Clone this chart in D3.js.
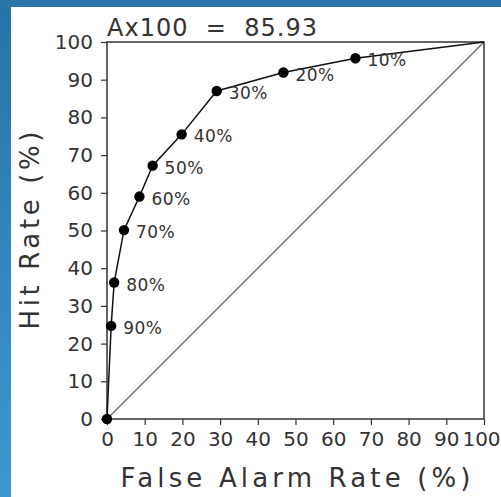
<!DOCTYPE html>
<html>
<head>
<meta charset="utf-8">
<script src="https://cdn.jsdelivr.net/npm/d3@7"></script>
<style>
  html, body { margin: 0; padding: 0; background: #fff; }
  svg { display: block; }
  text { font-family: "DejaVu Sans", sans-serif; fill: #333; }
</style>
</head>
<body>
<div id="chart"></div>
<script>
// ROC points (false alarm %, hit %)
const falseAlarm = [0, 1.1, 1.9, 4.5, 8.6, 12.1, 19.8, 29.1, 46.8, 65.9, 100];
const hitRate = [0, 24.7, 36.2, 50.1, 59.0, 67.2, 75.5, 87.0, 91.9, 95.7, 100];
const pointLabels = ["", "90%", "80%", "70%", "60%", "50%", "40%", "30%", "20%", "10%", ""];
const tickValues = [0, 10, 20, 30, 40, 50, 60, 70, 80, 90, 100];
const titleText = "Ax100  =  85.93";

const width = 501, height = 497;
const margin = { left: 107, top: 42, right: 17, bottom: 78 };
const innerW = width - margin.left - margin.right; // 377
const innerH = height - margin.top - margin.bottom; // 377

const svg = d3.select("#chart")
  .append("svg")
  .attr("width", width)
  .attr("height", height);

// blue slide background strips
const defs = svg.append("defs");
const grad = defs.append("linearGradient")
  .attr("id", "blueside")
  .attr("x1", 0).attr("y1", 0).attr("x2", 0).attr("y2", 1);
grad.append("stop").attr("offset", "0%").attr("stop-color", "#2873a6");
grad.append("stop").attr("offset", "100%").attr("stop-color", "#3d97d2");

svg.append("rect").attr("x", 0).attr("y", 0).attr("width", 11).attr("height", height)
  .attr("fill", "url(#blueside)");
svg.append("rect").attr("x", 0).attr("y", 0).attr("width", width).attr("height", 7)
  .attr("fill", "#2a76a8");

const x = d3.scaleLinear().domain([0, 100]).range([0, innerW]);
const y = d3.scaleLinear().domain([0, 100]).range([innerH, 0]);

const g = svg.append("g").attr("transform", `translate(${margin.left},${margin.top})`);

// chance diagonal
g.append("line")
  .attr("x1", x(0)).attr("y1", y(0))
  .attr("x2", x(100)).attr("y2", y(100))
  .attr("stroke", "#666")
  .attr("stroke-width", 1.2);

// axes
const yAxis = g.append("g")
  .call(d3.axisLeft(y).tickValues(tickValues).tickSize(6).tickPadding(8));
const xAxis = g.append("g")
  .attr("transform", `translate(0,${innerH})`)
  .call(d3.axisBottom(x).tickValues(tickValues).tickSize(6).tickPadding(6));

[xAxis, yAxis].forEach(ax => {
  ax.select(".domain").remove();
  ax.selectAll(".tick line").attr("stroke", "#333").attr("stroke-width", 1.2);
  ax.selectAll(".tick text")
    .attr("fill", "#333")
    .style("font-family", "DejaVu Sans, sans-serif")
    .style("font-size", "20px");
});
xAxis.selectAll(".tick text").attr("dy", "0.76em");
// last label sits at the window edge, nudge it in a bit
xAxis.selectAll(".tick text").filter(d => d === 100).attr("dx", -3);

// frame
g.append("rect")
  .attr("x", 0).attr("y", 0)
  .attr("width", innerW).attr("height", innerH)
  .attr("fill", "none")
  .attr("stroke", "#333")
  .attr("stroke-width", 1.5);

// ROC curve
const pts = falseAlarm.map((d, i) => ({ fa: d, hit: hitRate[i], label: pointLabels[i] }));
const line = d3.line().x(d => x(d.fa)).y(d => y(d.hit));

g.append("path")
  .datum(pts)
  .attr("d", line)
  .attr("fill", "none")
  .attr("stroke", "#111")
  .attr("stroke-width", 1.5);

g.selectAll(".dot")
  .data(pts.slice(0, pts.length - 1))
  .enter()
  .append("circle")
  .attr("class", "dot")
  .attr("cx", d => x(d.fa))
  .attr("cy", d => y(d.hit))
  .attr("r", 5.2)
  .attr("fill", "#000");

g.selectAll(".plabel")
  .data(pts.filter(d => d.label))
  .enter()
  .append("text")
  .attr("class", "plabel")
  .attr("x", d => x(d.fa) + 12)
  .attr("y", d => y(d.hit) + 8)
  .style("font-size", "17px")
  .style("letter-spacing", "0.5px")
  .text(d => d.label);

// title
svg.append("text")
  .attr("x", margin.left)
  .attr("y", 36)
  .attr("xml:space", "preserve")
  .attr("textLength", 210)
  .attr("lengthAdjust", "spacing")
  .style("font-size", "24px")
  .text(titleText);

// axis titles
svg.append("text")
  .attr("x", margin.left + innerW / 2)
  .attr("y", 487)
  .attr("text-anchor", "middle")
  .attr("textLength", 350)
  .attr("lengthAdjust", "spacing")
  .style("font-size", "26px")
  .text("False Alarm Rate (%)");

svg.append("text")
  .attr("transform", `translate(39,${margin.top + innerH / 2}) rotate(-90)`)
  .attr("text-anchor", "middle")
  .attr("textLength", 198)
  .attr("lengthAdjust", "spacing")
  .style("font-size", "26px")
  .text("Hit Rate (%)");
</script>
</body>
</html>
